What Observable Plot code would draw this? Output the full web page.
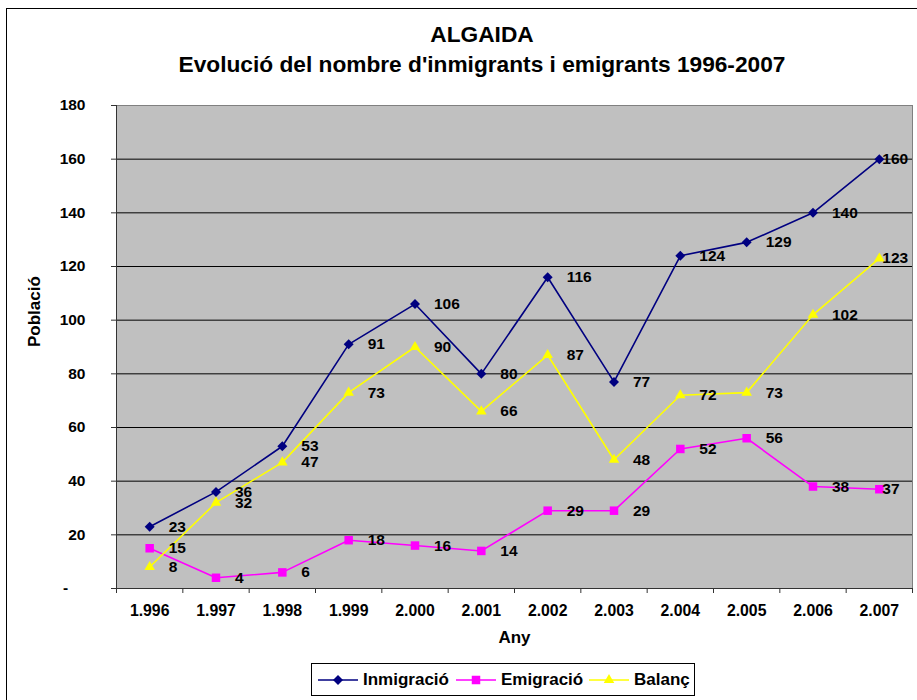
<!DOCTYPE html>
<html>
<head>
<meta charset="utf-8">
<script src="https://cdn.jsdelivr.net/npm/d3@7"></script>
<script src="https://cdn.jsdelivr.net/npm/@observablehq/plot@0.6"></script>
<style>
  html, body { margin: 0; padding: 0; background: #fff; }
  body { width: 917px; height: 700px; overflow: hidden; position: relative; font-family: "Liberation Sans", Arial, sans-serif; }
  #frame { position: absolute; left: 6px; top: 8px; width: 960px; height: 720px; border: 1px solid #000; box-sizing: border-box; }
  #chart { position: absolute; left: 0; top: 0; }
  #title { position: absolute; left: 0; top: 19px; width: 964px; text-align: center; font-weight: bold; font-size: 22.7px; line-height: 30px; color: #000; }
  #legend { position: absolute; left: 311px; top: 663px; width: 384px; height: 33px; border: 1px solid #000; box-sizing: border-box; background: #fff; }
  .item { position: absolute; top: 0; height: 31px; display: flex; align-items: center; font-weight: bold; font-size: 17px; color: #000; }
  .item svg { margin-right: 5px; }
</style>
</head>
<body>
<div id="frame"></div>
<div id="chart"></div>
<div id="title"><div>ALGAIDA</div><div>Evolució del nombre d'inmigrants i emigrants 1996-2007</div></div>
<div id="legend"></div>
<script>
// ---- Data ----
const years = [1996, 1997, 1998, 1999, 2000, 2001, 2002, 2003, 2004, 2005, 2006, 2007];
const inmigracio = [23, 36, 53, 91, 106, 80, 116, 77, 124, 129, 140, 160];
const emigracio = [15, 4, 6, 18, 16, 14, 29, 29, 52, 56, 38, 37];
const balanc = [8, 32, 47, 73, 90, 66, 87, 48, 72, 73, 102, 123];
const seriesNames = ["Inmigració", "Emigració", "Balanç"];
const yTicks = [0, 20, 40, 60, 80, 100, 120, 140, 160, 180];

// ---- Styles ----
const seriesColors = ["#000080", "#FF00FF", "#FFFF00"];
const seriesSymbols = ["diamond2", "square", "triangle"];
const seriesRadii = [4.5, 4.8, 3.9];

const seriesValues = [inmigracio, emigracio, balanc];
const rows = [];
seriesNames.forEach((s, i) => years.forEach((y, j) => rows.push({series: s, year: y, value: seriesValues[i][j], last: j === years.length - 1})));
const boundaries = years.map(y => y - 0.5).concat([years[years.length - 1] + 0.5]);
const fmtYear = y => String(y).replace(/^(\d)(\d{3})$/, "$1.$2");

const marks = [
  Plot.frame({fill: "#C0C0C0", stroke: "#808080"}),
  Plot.gridY(yTicks.filter(v => v > yTicks[0] && v < yTicks[yTicks.length - 1]), {stroke: "#000", strokeOpacity: 1}),
  Plot.ruleY([yTicks[0]], {stroke: "#333"}),
  Plot.ruleX([boundaries[0]], {stroke: "#333"}),
  Plot.axisY(yTicks, {tickSize: 5, tickPadding: 26, stroke: "#333", label: null, fontSize: 15.5,
    tickFormat: d => d === 0 ? "-\u00a0\u00a0\u00a0\u00a0" : String(d)}),
  Plot.axisX(boundaries, {tickSize: 5, stroke: "#333", label: null, tickFormat: () => ""}),
  Plot.axisX(years, {tickSize: 0, tickPadding: 16, label: null, fontSize: 15.8, tickFormat: fmtYear}),
];
seriesNames.forEach((s, i) => {
  const data = rows.filter(r => r.series === s);
  marks.push(Plot.line(data, {x: "year", y: "value", stroke: seriesColors[i], strokeWidth: 1.6}));
});
seriesNames.forEach((s, i) => {
  const data = rows.filter(r => r.series === s);
  marks.push(Plot.dot(data, {x: "year", y: "value", symbol: () => seriesSymbols[i], fill: seriesColors[i], stroke: "none", r: seriesRadii[i]}));
});
marks.push(Plot.text(rows.filter(r => !r.last), {x: "year", y: "value", text: d => String(d.value), dx: 19, textAnchor: "start", fill: "#000", fontSize: 15.5}));
marks.push(Plot.text(rows.filter(r => r.last), {x: "year", y: "value", text: d => String(d.value), dx: 3, textAnchor: "start", fill: "#000", fontSize: 15.5}));
marks.push(Plot.text(["Any"], {frameAnchor: "bottom", dy: 54, text: d => d, fontSize: 17, fill: "#000"}));
marks.push(Plot.text(["Població"], {frameAnchor: "left", dx: -82, rotate: -90, text: d => d, fontSize: 17, fill: "#000"}));

const chart = Plot.plot({
  width: 917,
  height: 700,
  marginTop: 105,
  marginBottom: 112,
  marginLeft: 116,
  marginRight: 5,
  x: {domain: [boundaries[0], boundaries[boundaries.length - 1]]},
  y: {domain: [yTicks[0], yTicks[yTicks.length - 1]]},
  symbol: {type: "identity"},
  style: {fontFamily: "'Liberation Sans', Arial, sans-serif", fontSize: "15px", fontWeight: "bold", background: "transparent", overflow: "visible", color: "#000"},
  marks
});
document.getElementById("chart").appendChild(chart);

// ---- Legend ----
const legend = document.getElementById("legend");
const lefts = [6, 144, 277];
seriesNames.forEach((s, i) => {
  const item = document.createElement("div");
  item.className = "item";
  item.style.left = lefts[i] + "px";
  const sym = d3.symbol().type(seriesSymbols[i] === "diamond2" ? d3.symbolDiamond2 : seriesSymbols[i] === "square" ? d3.symbolSquare : d3.symbolTriangle)
    .size(Math.PI * seriesRadii[i] * seriesRadii[i]);
  item.innerHTML = `<svg width="40" height="14"><line x1="0" x2="40" y1="7" y2="7" stroke="${seriesColors[i]}" stroke-width="1.5"/><path transform="translate(20,7)" d="${sym()}" fill="${seriesColors[i]}"/></svg><span>${s}</span>`;
  legend.appendChild(item);
});
</script>
</body>
</html>
